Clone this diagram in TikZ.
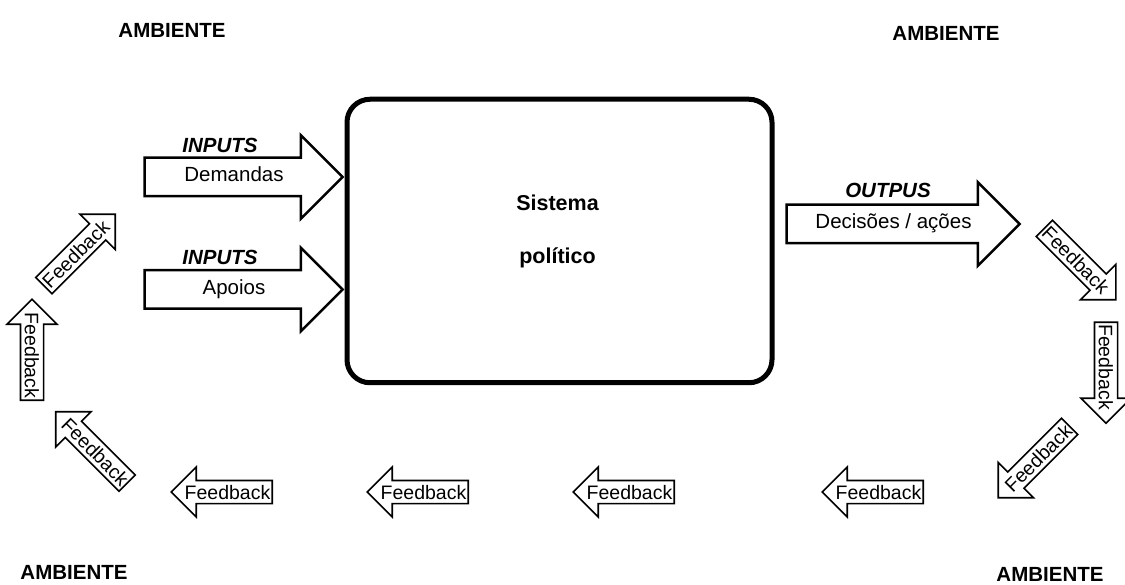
\documentclass[tikz,border=0pt]{standalone}
\usepackage{fontspec}
\setmainfont{Liberation Sans}
\usetikzlibrary{shapes.arrows}

\tikzset{
  bigarrow/.style={single arrow,draw,line width=2.5pt,minimum height=198pt,
    text height=15pt,text depth=5pt,inner ysep=8pt,inner xsep=2pt,
    single arrow head extend=22.5pt,font=\fontsize{20.5}{24}\selectfont},
  fbarrow/.style={single arrow,draw,line width=1.6pt,minimum height=101pt,
    text height=14.5pt,text depth=0pt,inner ysep=3.5pt,inner xsep=1pt,
    single arrow head extend=13.5pt,font=\fontsize{19.5}{23}\selectfont},
  ambient/.style={font=\bfseries\fontsize{20.5}{24}\selectfont},
  flowlabel/.style={font=\bfseries\itshape\fontsize{20.5}{24}\selectfont}
}

\begin{document}
\begin{tikzpicture}[x=1pt,y=-1pt]

\useasboundingbox (0,0) rectangle (1125,585);

\node[ambient] (amb1) at (172,30) {AMBIENTE};
\node[ambient] (amb2) at (946,33) {AMBIENTE};
\node[ambient] (amb3) at (74,572) {AMBIENTE};
\node[ambient] (amb4) at (1050,574) {AMBIENTE};

\node[draw,line width=5pt,rounded corners=23pt,minimum width=425pt,minimum height=283.5pt] (sis) at (559.5,241) {};
\node[ambient,font=\bfseries\fontsize{21.5}{25}\selectfont] (sis1) at (557.5,203) {Sistema};
\node[ambient,font=\bfseries\fontsize{21.5}{25}\selectfont] (sis2) at (557.5,258) {político};

\node[bigarrow] (in1) at (234,177) {Demandas};
\node[bigarrow] (in2) at (234,289.5) {Apoios};
\node[bigarrow,minimum height=233pt] (out) at (893.5,224) {Decisões / ações};

\node[flowlabel] (lin1) at (220,145) {INPUTS};
\node[flowlabel] (lin2) at (220,257) {INPUTS};
\node[flowlabel] (lout) at (888,190) {OUTPUS};

\node[fbarrow,rotate=-45] (fb1) at (1076,260) {Feedback};
\node[fbarrow,rotate=-90] (fb2) at (1106,367) {Feedback};
\node[fbarrow,rotate=45,shape border rotate=180] (fb3) at (1038,458) {Feedback};
\node[fbarrow,shape border rotate=180] (fb4) at (878.5,492) {Feedback};
\node[fbarrow,shape border rotate=180] (fb5) at (629.5,492) {Feedback};
\node[fbarrow,shape border rotate=180] (fb6) at (423.5,492) {Feedback};
\node[fbarrow,shape border rotate=180] (fb7) at (227.5,492) {Feedback};
\node[fbarrow,rotate=-45,shape border rotate=180] (fb8) at (95.5,451.5) {Feedback};
\node[fbarrow,rotate=-90,shape border rotate=180] (fb9) at (32,355.5) {Feedback};
\node[fbarrow,rotate=45] (fb10) at (75.5,254) {Feedback};

\end{tikzpicture}
\end{document}
